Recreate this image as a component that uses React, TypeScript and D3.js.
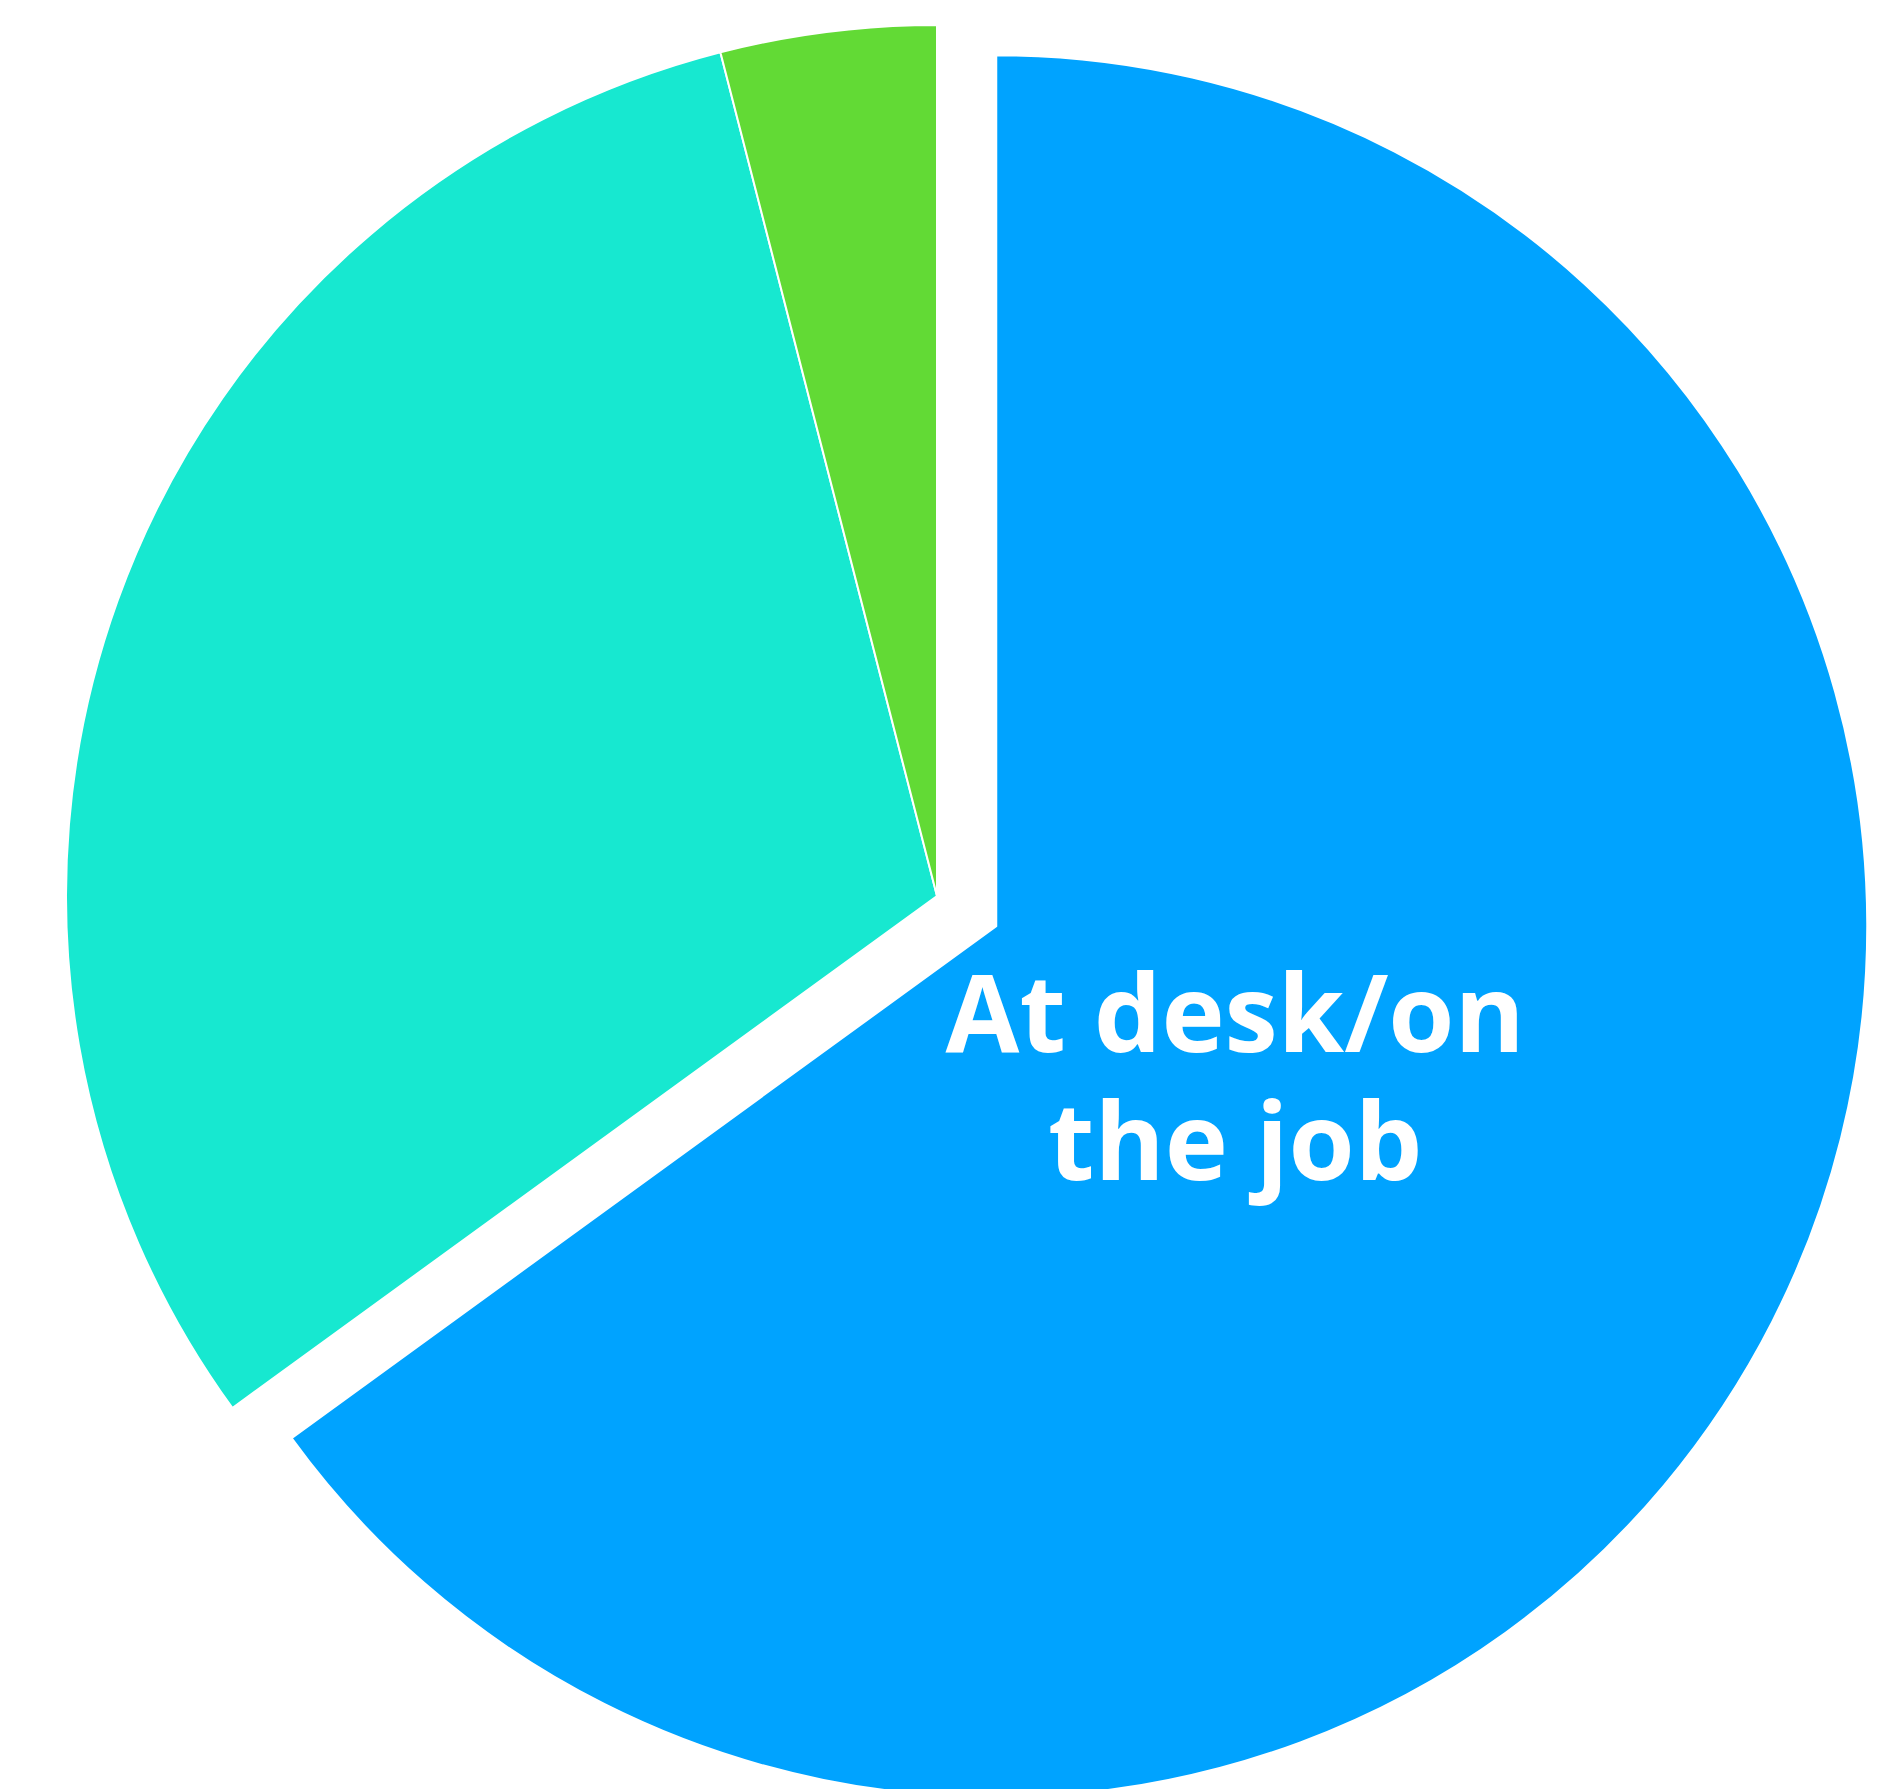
import React from "react";
import * as d3 from "d3";

const categories = ["At desk/on the job", "Other", "Other 2"];
const values = [65, 31, 4];
const colors = ["#00a3ff", "#17e8d0", "#62da35"];
const labelLines = [["At desk/on", "the job"], [], []];
const slicedFlags = [true, false, false];

const W = 1879;
const H = 1789;
const CX = 937;
const CY = 896;
const R = 871;
const SLICE_OFFSET = 66.5;

export default function App() {
  const pie = d3.pie<number>().sort(null).startAngle(0).endAngle(2 * Math.PI)(values);
  const arc = d3.arc<d3.PieArcDatum<number>>().innerRadius(0).outerRadius(R);
  return (
    <svg
      width={W}
      height={H}
      style={{ position: "absolute", left: 0, top: 0, background: "#fff" }}
    >
      <g transform={`translate(${CX},${CY})`}>
        {pie.map((d, i) => {
          const mid = (d.startAngle + d.endAngle) / 2;
          const off = slicedFlags[i] ? SLICE_OFFSET : 0;
          const dx = Math.sin(mid) * off;
          const dy = -Math.cos(mid) * off;
          return (
            <g key={categories[i]} transform={`translate(${dx},${dy})`}>
              <path d={arc(d) || ""} fill={colors[i]} stroke="#ffffff" strokeWidth={2} strokeLinejoin="round" />
            </g>
          );
        })}
        {pie.map((d, i) => {
          const lines = labelLines[i];
          if (!lines.length) return null;
          const mid = (d.startAngle + d.endAngle) / 2;
          const off = slicedFlags[i] ? SLICE_OFFSET : 0;
          const lr = R * 0.308;
          const x = Math.sin(mid) * (off + lr);
          const y = -Math.cos(mid) * (off + lr) + 4;
          return (
            <text
              key={"l" + i}
              x={x}
              textAnchor="middle"
              fill="#ffffff"
              fontFamily="'Open Sans', sans-serif"
              fontWeight={700}
              fontSize={107}
            >
              {lines.map((ln, j) => (
                <tspan key={j} x={x} y={y + j * 128.5}>{ln}</tspan>
              ))}
            </text>
          );
        })}
      </g>
    </svg>
  );
}
